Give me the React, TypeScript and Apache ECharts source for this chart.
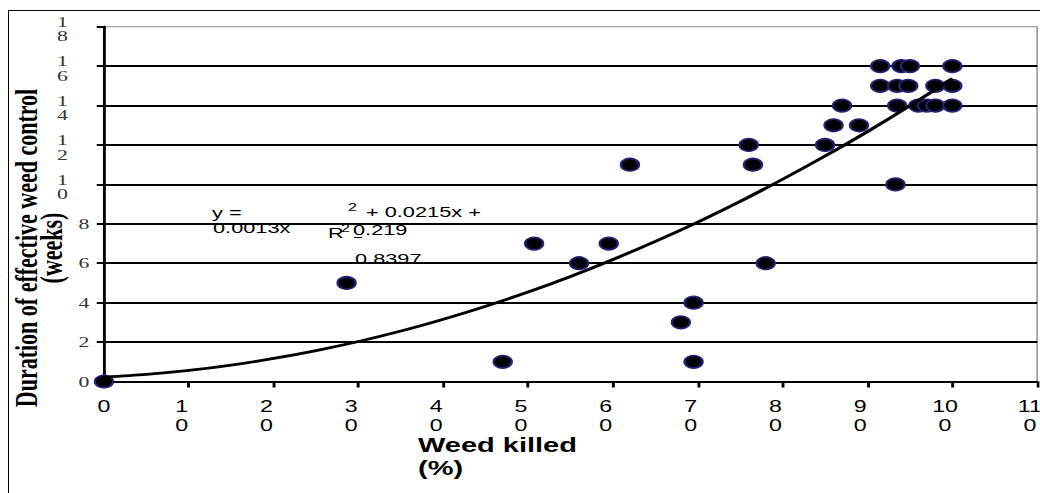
import React, { useEffect, useRef } from "react";
import * as echarts from "echarts";

// ---- data ----
const weedKilled = [0, 28.6, 47, 50.7, 56, 59.5, 62, 68, 69.5, 69.5, 76, 76.5, 78, 85, 86, 87, 89, 91.5, 91.5, 93.3, 93.5, 93.5, 94, 95, 94.8, 96, 97, 98, 98, 100, 100, 100];
const durationWeeks = [0, 5, 1, 7, 6, 7, 11, 3, 4, 1, 12, 11, 6, 12, 13, 14, 13, 16, 15, 10, 15, 14, 16, 16, 15, 14, 14, 15, 14, 16, 15, 14];

const trendX = [0, 5, 10, 15, 20, 25, 30, 35, 40, 45, 50, 55, 60, 65, 70, 75, 80, 85, 90, 95, 100];
const trendY = [0.22, 0.36, 0.56, 0.83, 1.17, 1.57, 2.03, 2.56, 3.16, 3.82, 4.54, 5.33, 6.19, 7.11, 8.09, 9.14, 10.26, 11.44, 12.68, 13.99, 15.37];

const xTitle = "Weed killed\n(%)";
const yTitle = "Duration of effective weed control\n(weeks)";

// horizontal stretch of the original picture
const S = 1.45;
const IW = 1040 / S;
const sx = (px: number) => px / S;

export default function App() {
  const ref = useRef<HTMLDivElement>(null);

  useEffect(() => {
    const chart = echarts.init(ref.current!, null, { renderer: "svg" });
    const sans = "Liberation Sans, Arial, sans-serif";
    const serif = "Liberation Serif, Times New Roman, serif";

    chart.setOption({
      animation: false,
      backgroundColor: "#fff",
      grid: {
        left: sx(104),
        right: IW - sx(1037.5),
        top: 26.7,
        bottom: 493 - 381.5,
        outerBoundsMode: "none",
        containLabel: false,
        show: true,
        borderColor: "#8c8c8c",
        borderWidth: 1,
        backgroundColor: "#fff",
      },
      xAxis: {
        type: "value",
        min: 0,
        max: 110,
        interval: 10,
        axisLine: { show: true, onZero: false, lineStyle: { color: "#000", width: 2 } },
        axisTick: { show: true, inside: false, length: 6, lineStyle: { color: "#000", width: 2 } },
        splitLine: { show: false },
        axisLabel: {
          margin: 15,
          color: "#000",
          fontFamily: sans,
          fontSize: 16,
          lineHeight: 19,
          hideOverlap: false,
          formatter: (v: number) => {
            const s = String(v);
            if (s.length < 2) return `{z|${s}}`;
            return `{p|${s.slice(0, -1)}}\n{p|${s.slice(-1)}}`;
          },
          rich: {
            z: { fontFamily: sans, fontSize: 16, color: "#000", lineHeight: 19 },
            p: { fontFamily: sans, fontSize: 16, color: "#000", lineHeight: 19, padding: [0, 10, 0, 0] },
          },
        },
      },
      yAxis: {
        type: "value",
        min: 0,
        max: 18,
        interval: 2,
        axisLine: { show: true, onZero: false, lineStyle: { color: "#000", width: 2 } },
        axisTick: { show: true, inside: false, length: 5, lineStyle: { color: "#000", width: 2 } },
        splitLine: { show: true, showMaxLine: false, lineStyle: { color: "#000", width: 1.8 } },
        axisLabel: {
          margin: 10,
          color: "#333",
          fontFamily: serif,
          fontSize: 15,
          formatter: (v: number) => {
            const s = String(v);
            if (s.length < 2) return `{s|${s}}`;
            return `{a|${s.slice(0, -1)}}\n{b|${s.slice(-1)}}`;
          },
          rich: {
            s: { fontFamily: serif, fontSize: 15, color: "#333", lineHeight: 16 },
            a: { fontFamily: serif, fontSize: 15, color: "#333", lineHeight: 15, padding: [5, 15, 0, 0] },
            b: { fontFamily: serif, fontSize: 15, color: "#333", lineHeight: 15, padding: [4, 15, 0, 0] },
          },
        },
      },
      graphic: [
        {
          type: "text",
          x: sx(418),
          y: 456.5,
          style: {
            text: xTitle,
            fontFamily: sans,
            fontWeight: "bold",
            fontSize: 20,
            lineHeight: 23,
            fill: "#000",
            textAlign: "left",
            textVerticalAlign: "middle",
            align: "left",
            verticalAlign: "middle",
          },
        },
        {
          type: "text",
          x: sx(39),
          y: 248,
          rotation: Math.PI / 2,
          style: {
            text: yTitle,
            fontFamily: serif,
            fontWeight: "bold",
            fontSize: 22,
            lineHeight: 17,
            fill: "#000",
            textAlign: "center",
            textVerticalAlign: "middle",
            align: "center",
            verticalAlign: "middle",
          },
        },
        // trendline equation and R squared (as laid out in the original)
        { type: "text", x: sx(212), y: 213, style: { text: "y =", fontFamily: sans, fontSize: 15, fill: "#000", textVerticalAlign: "middle", verticalAlign: "middle" } },
        { type: "text", x: sx(213), y: 228, style: { text: "0.0013x", fontFamily: sans, fontSize: 15, fill: "#000", textVerticalAlign: "middle", verticalAlign: "middle" } },
        { type: "text", x: sx(348), y: 207, style: { text: "2", fontFamily: sans, fontSize: 11, fill: "#000", textVerticalAlign: "middle", verticalAlign: "middle" } },
        { type: "text", x: sx(366), y: 212, style: { text: "+ 0.0215x +", fontFamily: sans, fontSize: 15, fill: "#000", textVerticalAlign: "middle", verticalAlign: "middle" } },
        { type: "text", x: sx(328), y: 233, style: { text: "R", fontFamily: sans, fontSize: 15, fill: "#000", textVerticalAlign: "middle", verticalAlign: "middle" } },
        { type: "text", x: sx(341), y: 228, style: { text: "2", fontFamily: sans, fontSize: 11, fill: "#000", textVerticalAlign: "middle", verticalAlign: "middle" } },
        { type: "text", x: sx(353), y: 230, style: { text: "0.219", fontFamily: sans, fontSize: 15, fill: "#000", textVerticalAlign: "middle", verticalAlign: "middle" } },
        { type: "line", shape: { x1: sx(354), y1: 237.5, x2: sx(362), y2: 237.5 }, style: { stroke: "#000", lineWidth: 1 } },
        { type: "text", x: sx(355), y: 259, style: { text: "0.8397", fontFamily: sans, fontSize: 15, fill: "#000", textVerticalAlign: "middle", verticalAlign: "middle" } },
      ],
      series: [
        {
          type: "scatter",
          data: weedKilled.map((x, i) => [x, durationWeeks[i]]),
          symbol: "circle",
          symbolSize: 12.5,
          itemStyle: { color: "#000", borderColor: "#23237a", borderWidth: 1.6, opacity: 1 },
          z: 2,
        },
        {
          type: "line",
          data: trendX.map((x, i) => [x, trendY[i]]),
          smooth: 0.3,
          showSymbol: false,
          symbol: "none",
          lineStyle: { color: "#000", width: 2.8 },
          z: 3,
        },
      ],
    });
    return () => chart.dispose();
  }, []);

  return (
    <div style={{ position: "fixed", left: 0, top: 0, width: 1040, height: 493, overflow: "hidden", background: "#fff" }}>
      <div
        ref={ref}
        style={{
          position: "absolute",
          left: 0,
          top: 0,
          width: IW,
          height: 493,
          transform: `scaleX(${S})`,
          transformOrigin: "0 0",
        }}
      />
      <div
        style={{
          position: "absolute",
          left: 8,
          top: 9.5,
          width: 1200,
          height: 700,
          borderLeft: "1.5px solid #000",
          borderTop: "1.5px solid #000",
          pointerEvents: "none",
        }}
      />
    </div>
  );
}
